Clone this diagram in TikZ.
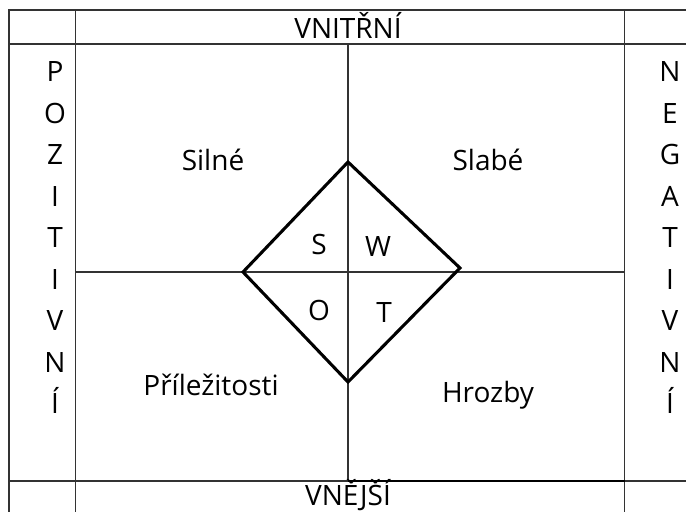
\documentclass[tikz,border=0pt]{standalone}
\usepackage{fontspec}
\setmainfont{Open Sans}
\begin{document}
\begin{tikzpicture}[x=0.75pt,y=-0.75pt,
  gridline/.style={line width=0.9pt, draw=black!80},
  rhomb/.style={line width=2.3pt, line join=miter},
  lbl/.style={font=\fontsize{21}{25}\selectfont, inner sep=0pt, anchor=base},
]
\useasboundingbox (0,0) rectangle (686,512);
% table frame and cells
\draw[gridline] (686,10) -- (9,10) -- (9,512);
\draw[gridline] (9,44) -- (686,44);
\draw[gridline] (9,481) -- (686,481);
\draw[gridline] (75.5,10) -- (75.5,512);
\draw[gridline] (624.5,10) -- (624.5,512);
\draw[gridline] (348,44) -- (348,481);
\draw[gridline] (75.5,272) -- (624.5,272);
\draw[line width=2pt] (348,481) -- (624.5,481);
% SWOT diamond
\coordinate (dt) at (348,162);
\coordinate (dr) at (460,268);
\coordinate (db) at (348,382);
\coordinate (dl) at (243,272);
\draw[rhomb] (dt) -- (dr) -- (db) -- (dl) -- cycle;
% headings
\node[lbl] (vnitrni) at (348,38) {VNITŘNÍ};
\node[lbl] (vnejsi) at (348,505) {VNĚJŠÍ};
% quadrant names
\node[lbl] (silne) at (213,170) {Silné};
\node[lbl] (slabe) at (488,170) {Slabé};
\node[lbl] (prilez) at (211,395) {Příležitosti};
\node[lbl] (hrozby) at (488,402) {Hrozby};
% letters inside the diamond
\node[lbl] (s) at (319,254) {S};
\node[lbl] (w) at (378,256) {W};
\node[lbl] (o) at (319,320) {O};
\node[lbl] (t) at (384,322) {T};
% side captions, one letter per line
\foreach \ch [count=\i from 0] in {P,O,Z,I,T,I,V,N,Í}
  \node[lbl] (poz\i) at (55,81.5+41.5*\i) {\ch};
\foreach \ch [count=\i from 0] in {N,E,G,A,T,I,V,N,Í}
  \node[lbl] (neg\i) at (670,81.5+41.5*\i) {\ch};
\end{tikzpicture}
\end{document}
